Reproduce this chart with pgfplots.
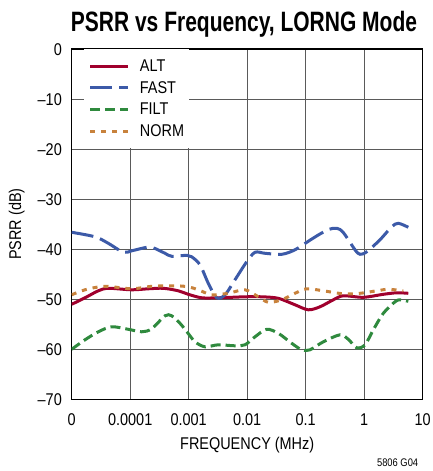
\documentclass[border=0pt]{standalone}
\usepackage{fontspec}
\setmainfont{Liberation Sans}[FakeStretch=0.85]
\newfontfamily\titlefont{Liberation Sans}[FakeStretch=0.75]
\usepackage{pgfplots}
\pgfplotsset{compat=1.18}
\definecolor{altc}{RGB}{160,0,45}
\definecolor{fastc}{RGB}{60,90,168}
\definecolor{filtc}{RGB}{47,138,62}
\definecolor{normc}{RGB}{200,130,60}
\definecolor{gridc}{RGB}{90,90,90}
\newcommand{\tfont}{\fontsize{17}{20}\selectfont}
\begin{document}
\begin{tikzpicture}
\useasboundingbox (-71.7pt,-71.7pt) rectangle (361.3pt,399.3pt);
\begin{axis}[
  at={(0pt,0pt)}, anchor=south west, scale only axis,
  width=351pt, height=350pt,
  xmin=-5, xmax=1, ymin=-70, ymax=0,
  xtick={-5,-4,-3,-2,-1,0,1},
  xticklabels={0,0.0001,0.001,0.01,0.1,1,10},
  ytick={-70,-60,-50,-40,-30,-20,-10,0},
  yticklabels={–70,–60,–50,–40,–30,–20,–10,0},
  grid=major,
  major grid style={gridc, line width=1.2pt},
  axis line style={black, line width=1.6pt},
  major tick length=0pt,
  tick label style={font=\tfont},
  xticklabel style={anchor=base, yshift=-25.7pt, inner sep=0pt},
  yticklabel style={anchor=east, xshift=-9.7pt, inner sep=0pt},
  legend cell align=left,
  legend style={at={(0,1)}, anchor=north west, xshift=12pt, draw=none, fill=white,
    inner xsep=5pt, inner ysep=10pt, font=\tfont, row sep=8.5pt,
    /tikz/every odd column/.append style={column sep=10pt},
    nodes={inner sep=0pt}},
  legend image code/.code={\draw[line width=3pt,#1] (0pt,0pt) -- (38pt,0pt);},
]
\addplot[altc, line width=3pt, smooth, tension=0.5] table {
-5.000 -51.0
-4.773 -49.7
-4.545 -48.3
-4.374 -47.8
-3.974 -48.1
-3.691 -47.9
-3.434 -47.8
-3.178 -48.3
-3.007 -49.0
-2.778 -49.7
-2.494 -49.7
-2.038 -49.5
-1.752 -49.5
-1.468 -49.8
-1.183 -51.1
-0.956 -52.1
-0.756 -51.5
-0.528 -50.1
-0.357 -49.3
-0.015 -49.6
0.327 -49.0
0.556 -48.7
0.754 -48.8
};
\addlegendentry{ALT}
\addplot[fastc, line width=3pt, smooth, tension=0.5, dash pattern=on 22pt off 7pt] table {
-5.000 -36.6
-4.602 -37.5
-4.374 -38.8
-4.118 -40.6
-3.974 -40.3
-3.718 -39.6
-3.605 -39.7
-3.405 -40.8
-3.291 -41.4
-3.030 -41.2
-2.949 -41.5
-2.807 -43.1
-2.665 -46.8
-2.521 -49.7
-2.379 -49.1
-2.209 -46.1
-2.009 -42.5
-1.867 -40.6
-1.696 -40.8
-1.410 -41.0
-1.183 -40.1
-0.930 -38.2
-0.750 -36.9
-0.600 -36.0
-0.470 -35.8
-0.360 -36.6
-0.157 -40.1
-0.072 -41.0
0.043 -40.5
0.270 -38.1
0.470 -35.5
0.583 -34.8
0.754 -35.6
};
\addlegendentry{FAST}
\addplot[filtc, line width=3pt, smooth, tension=0.5, dash pattern=on 10pt off 5pt] table {
-5.000 -60.0
-4.773 -58.1
-4.545 -56.5
-4.316 -55.5
-4.032 -56.0
-3.803 -56.5
-3.632 -55.9
-3.405 -53.3
-3.291 -53.3
-3.149 -54.8
-3.030 -56.5
-2.892 -58.5
-2.721 -59.5
-2.494 -59.1
-2.209 -59.3
-2.038 -59.1
-1.867 -57.5
-1.667 -56.0
-1.468 -56.8
-1.239 -58.8
-1.068 -60.1
-0.926 -60.1
-0.699 -58.5
-0.414 -57.1
-0.272 -58.0
-0.128 -59.7
0.014 -59.1
0.156 -56.1
0.327 -52.8
0.526 -50.5
0.612 -50.1
0.754 -50.4
};
\addlegendentry{FILT}
\addplot[normc, line width=3pt, smooth, tension=0.5, dash pattern=on 5pt off 6pt] table {
-5.000 -49.1
-4.773 -48.1
-4.431 -47.4
-3.974 -47.9
-3.632 -47.4
-3.234 -47.3
-3.007 -47.5
-2.836 -48.1
-2.607 -49.1
-2.323 -48.8
-2.038 -48.1
-1.810 -49.5
-1.639 -50.6
-1.410 -50.1
-1.183 -48.8
-0.983 -47.9
-0.699 -48.3
-0.357 -48.9
-0.072 -48.8
0.214 -48.3
0.412 -48.0
0.668 -48.3
};
\addlegendentry{NORM}
\end{axis}
\node[anchor=base, font=\titlefont\bfseries\fontsize{28}{32}\selectfont] at (172.3pt,367.3pt) {PSRR vs Frequency, LORNG Mode};
\node[anchor=base, font=\tfont] at (175.5pt,-49.7pt) {FREQUENCY (MHz)};
\node[rotate=90, anchor=center, font=\tfont] at (-55pt,175.3pt) {PSRR (dB)};
\node[anchor=base east, font=\fontsize{11}{13}\selectfont] at (350pt,-67.3pt) {5806 G04};
\end{tikzpicture}
\end{document}
